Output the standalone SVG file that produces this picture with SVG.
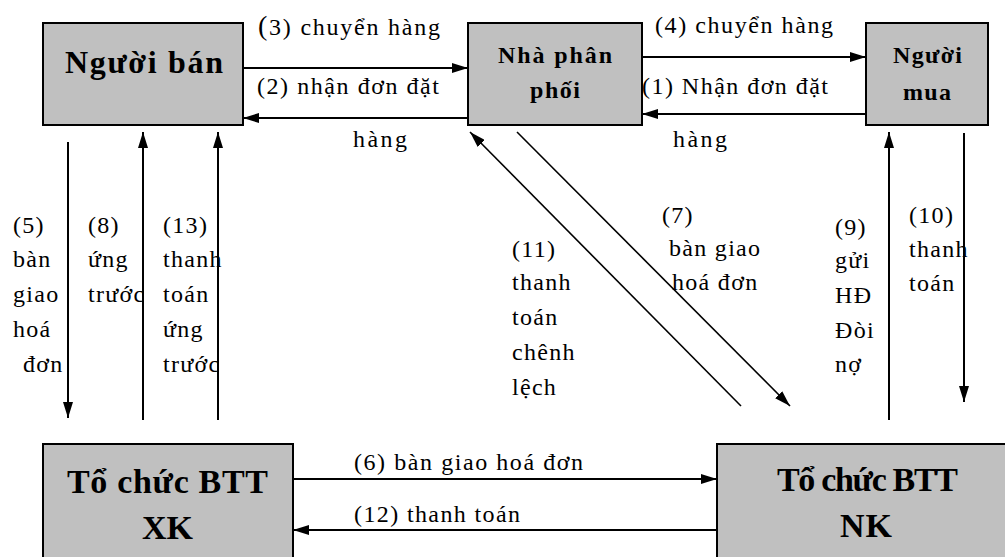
<svg xmlns="http://www.w3.org/2000/svg" width="1005" height="557" viewBox="0 0 1005 557">
<style>
.box{fill:#c0c0c0;stroke:#000;stroke-width:2}
.ln{stroke:#000;stroke-width:2;fill:none}
.dg{stroke:#000;stroke-width:1.6;fill:none}
.t{font-family:"Liberation Serif","Times New Roman",serif;font-size:24px;fill:#000;letter-spacing:1.3px}
.h{font-family:"Liberation Serif","Times New Roman",serif;font-size:24px;fill:#000}
.b{font-family:"Liberation Serif","Times New Roman",serif;font-weight:bold;fill:#000}
</style>
<defs>
<marker id="ah" markerUnits="userSpaceOnUse" markerWidth="16" markerHeight="10" refX="16" refY="5" orient="auto">
<path d="M0,0 L16,5 L0,10 z" fill="#000"/>
</marker>
</defs>
<rect width="1005" height="557" fill="#fff"/>

<g id="nguoi-ban">
<rect class="box" x="43" y="23" width="200" height="102"/>
<text class="b" font-size="32" x="65" y="73" textLength="158" lengthAdjust="spacing">Người bán</text>
</g>
<g id="nha-phan-phoi">
<rect class="box" x="468" y="23" width="174" height="102"/>
<text class="b" font-size="24" x="498" y="63" textLength="114" lengthAdjust="spacing">Nhà phân</text>
<text class="b" font-size="24" x="530" y="98" textLength="50" lengthAdjust="spacing">phối</text>
</g>
<g id="nguoi-mua">
<rect class="box" x="866" y="23" width="122" height="102"/>
<text class="b" font-size="24" x="893" y="63" textLength="69" lengthAdjust="spacing">Người</text>
<text class="b" font-size="24" x="903" y="100" textLength="48" lengthAdjust="spacing">mua</text>
</g>
<g id="btt-xk">
<rect class="box" x="43" y="444" width="250" height="120"/>
<text class="b" font-size="34" x="67" y="493" textLength="201" lengthAdjust="spacing">Tổ chức BTT</text>
<text class="b" font-size="34" x="142" y="539" textLength="51" lengthAdjust="spacing">XK</text>
</g>
<g id="btt-nk">
<rect class="box" x="717" y="444" width="300" height="120"/>
<text class="b" font-size="34" x="777" y="491" textLength="181" lengthAdjust="spacing">Tổ chức BTT</text>
<text class="b" font-size="34" x="840" y="537" textLength="52" lengthAdjust="spacing">NK</text>
</g>

<g id="connectors">
<line class="ln" x1="243" y1="68" x2="468" y2="68" marker-end="url(#ah)"/>
<line class="ln" x1="468" y1="118" x2="243" y2="118" marker-end="url(#ah)"/>
<line class="ln" x1="642" y1="57" x2="866" y2="57" marker-end="url(#ah)"/>
<line class="ln" x1="866" y1="114" x2="642" y2="114" marker-end="url(#ah)"/>
<line class="ln" x1="68" y1="142" x2="68" y2="418" marker-end="url(#ah)"/>
<line class="ln" x1="143" y1="420" x2="143" y2="132" marker-end="url(#ah)"/>
<line class="ln" x1="218" y1="420" x2="218" y2="132" marker-end="url(#ah)"/>
<line class="dg" x1="741" y1="406" x2="470" y2="132" marker-end="url(#ah)"/>
<line class="dg" x1="517" y1="132" x2="790" y2="406" marker-end="url(#ah)"/>
<line class="ln" x1="889" y1="420" x2="889" y2="132" marker-end="url(#ah)"/>
<line class="ln" x1="964" y1="133" x2="964" y2="402" marker-end="url(#ah)"/>
<line class="ln" x1="293" y1="479" x2="717" y2="479" marker-end="url(#ah)"/>
<line class="ln" x1="717" y1="530" x2="293" y2="530" marker-end="url(#ah)"/>
</g>

<g id="labels">
<text class="h" x="258" y="35" textLength="182" lengthAdjust="spacing"><tspan font-size="28">(</tspan>3) chuyển hàng</text>
<text class="h" x="257" y="94" textLength="182" lengthAdjust="spacing">(2) nhận đơn đặt</text>
<text class="h" x="353" y="147" textLength="54" lengthAdjust="spacing">hàng</text>
<text class="h" x="655" y="33" textLength="178" lengthAdjust="spacing">(4) chuyển hàng</text>
<text class="h" x="642" y="94" textLength="186" lengthAdjust="spacing">(1) Nhận đơn đặt</text>
<text class="h" x="673" y="147" textLength="54" lengthAdjust="spacing">hàng</text>
<text class="h" x="354" y="470" textLength="229" lengthAdjust="spacing">(6) bàn giao hoá đơn</text>
<text class="h" x="354" y="522" textLength="166" lengthAdjust="spacing">(12) thanh toán</text>

<text class="t" x="13" y="233">(5)</text>
<text class="t" x="13" y="267">bàn</text>
<text class="t" x="13" y="302">giao</text>
<text class="t" x="13" y="337">hoá</text>
<text class="t" x="23" y="372">đơn</text>

<text class="t" x="88" y="233">(8)</text>
<text class="t" x="88" y="267">ứng</text>
<text class="t" x="88" y="302">trước</text>

<text class="t" x="163" y="233">(13)</text>
<text class="t" x="163" y="267">thanh</text>
<text class="t" x="163" y="302">toán</text>
<text class="t" x="163" y="337">ứng</text>
<text class="t" x="163" y="372">trước</text>

<text class="t" x="662" y="223">(7)</text>
<text class="t" x="669" y="256">bàn giao</text>
<text class="t" x="672" y="290">hoá đơn</text>

<text class="t" x="512" y="257">(11)</text>
<text class="t" x="512" y="290">thanh</text>
<text class="t" x="512" y="325">toán</text>
<text class="t" x="512" y="360">chênh</text>
<text class="t" x="512" y="395">lệch</text>

<text class="t" x="835" y="235">(9)</text>
<text class="t" x="835" y="268">gửi</text>
<text class="t" x="835" y="303">HĐ</text>
<text class="t" x="835" y="338">Đòi</text>
<text class="t" x="835" y="372">nợ</text>

<text class="t" x="909" y="223">(10)</text>
<text class="t" x="909" y="257">thanh</text>
<text class="t" x="909" y="291">toán</text>
</g>
</svg>
